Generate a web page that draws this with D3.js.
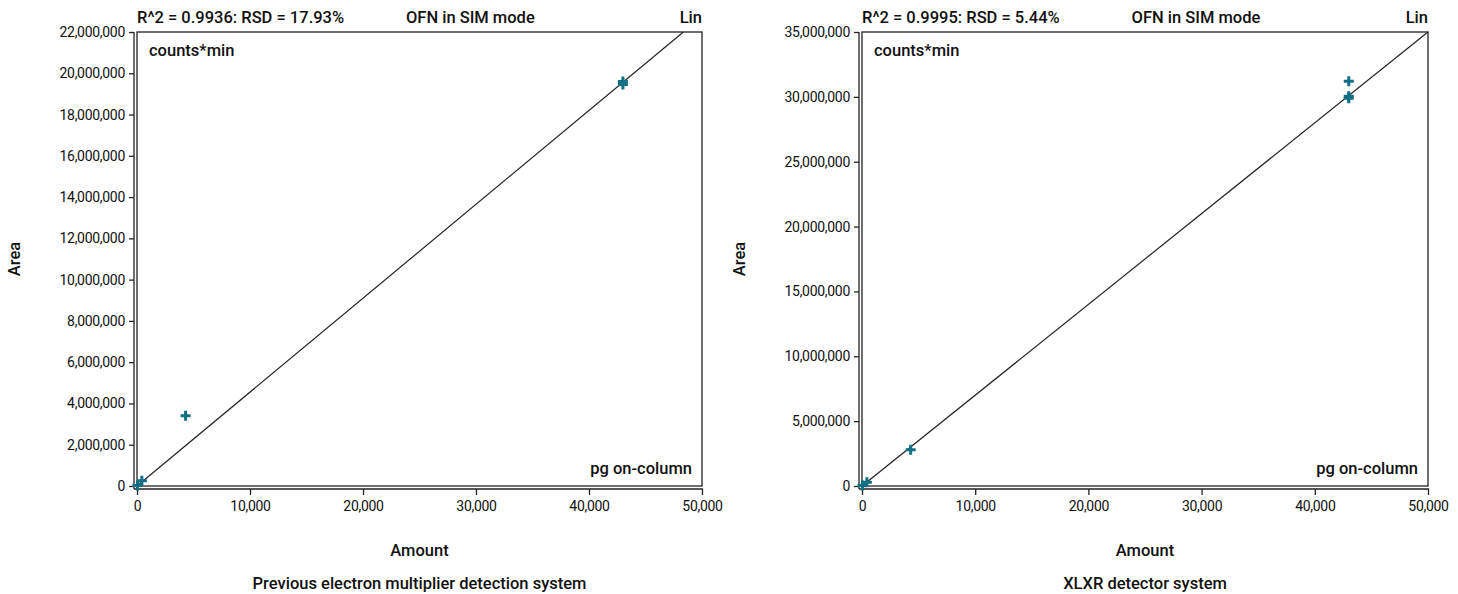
<!DOCTYPE html>
<html>
<head>
<meta charset="utf-8">
<script src="https://cdn.jsdelivr.net/npm/d3@7"></script>
<style>
  body { margin: 0; background: #fff; }
  svg text { font-family: Roboto, "Liberation Sans", Arial, sans-serif; fill: #111; }
  .tick text { font-size: 14px; letter-spacing: -0.3px; }
  .lbl { font-size: 16.5px; font-weight: 500; }
</style>
</head>
<body>
<svg id="chart" width="1458" height="594"></svg>
<script>
// ---- data ----
const leftAmount = [43, 430, 4300, 43000, 43000];
const leftArea = [30000, 250000, 3400000, 19600000, 19450000];
const leftFit = [455, 0]; // slope, intercept

const rightAmount = [43, 430, 4300, 43000, 43000, 43000];
const rightArea = [30000, 280000, 2800000, 31200000, 30050000, 29900000];
const rightFit = [700, 0];

const xTicks = [0, 10000, 20000, 30000, 40000, 50000];
const leftYTicks = d3.range(0, 22000001, 2000000);
const rightYTicks = d3.range(0, 35000001, 5000000);

const headers = [
  ["R^2 = 0.9936: RSD = 17.93%", "OFN in SIM mode", "Lin"],
  ["R^2 = 0.9995: RSD = 5.44%", "OFN in SIM mode", "Lin"]
];
const subtitles = ["Previous electron multiplier detection system", "XLXR detector system"];

const markerColor = "#136f84";

const svg = d3.select("#chart");
const fmt = d3.format(",");

function drawPanel(cfg) {
  const { left, right, top, bottom } = cfg;
  const g = svg.append("g");

  const x = d3.scaleLinear().domain([0, 50000]).range([left, right]);
  const y = d3.scaleLinear().domain([0, cfg.yMax]).range([bottom, top]);

  // plot frame
  g.append("rect")
    .attr("x", left).attr("y", top)
    .attr("width", right - left).attr("height", bottom - top)
    .attr("fill", "none").attr("stroke", "#222").attr("stroke-width", 1.3);

  // axes, offset slightly from the frame
  const xAxis = d3.axisBottom(x).tickValues(xTicks).tickFormat(fmt).tickSizeOuter(0).tickSize(6).tickPadding(6);
  g.append("g")
    .attr("transform", `translate(0,${bottom + 3})`)
    .call(xAxis)
    .call(a => a.select(".domain").attr("d", `M${left - 3},0H${right + 1}`));

  const yAxis = d3.axisLeft(y).tickValues(cfg.yTicks).tickFormat(fmt).tickSizeOuter(0).tickSize(5).tickPadding(4);
  g.append("g")
    .attr("transform", `translate(${left - 3},0)`)
    .call(yAxis)
    .call(a => a.select(".domain").attr("d", `M0,${top}V${bottom + 3}`));

  g.selectAll(".domain, .tick line").attr("stroke", "#222").attr("stroke-width", 1.3);

  // regression line, clipped to the frame
  const [m, b] = cfg.fit;
  const xEnd = Math.min(50000, (cfg.yMax - b) / m);
  g.append("line")
    .attr("x1", x(0)).attr("y1", y(b))
    .attr("x2", x(xEnd)).attr("y2", y(m * xEnd + b))
    .attr("stroke", "#222").attr("stroke-width", 1.2);

  // plus markers
  const pts = cfg.amount.map((a, i) => [a, cfg.area[i]]);
  g.selectAll(".pt").data(pts).join("path")
    .attr("class", "pt")
    .attr("d", d => `M${x(d[0]) - 5},${y(d[1])}h10M${x(d[0])},${y(d[1]) - 5}v10`)
    .attr("stroke", markerColor).attr("stroke-width", 3).attr("fill", "none");

  // texts
  g.append("text").attr("class", "lbl").attr("x", left).attr("y", 23).text(cfg.header[0]);
  g.append("text").attr("class", "lbl").attr("x", left + (right - left) * 0.59).attr("y", 23)
    .attr("text-anchor", "middle").text(cfg.header[1]);
  g.append("text").attr("class", "lbl").attr("x", right).attr("y", 23)
    .attr("text-anchor", "end").text(cfg.header[2]);

  g.append("text").attr("class", "lbl").attr("x", left + 12).attr("y", top + 24).text("counts*min");
  g.append("text").attr("class", "lbl").attr("x", right - 10).attr("y", bottom - 12)
    .attr("text-anchor", "end").text("pg on-column");

  const cx = (left + right) / 2;
  g.append("text").attr("class", "lbl").attr("x", cx).attr("y", 556)
    .attr("text-anchor", "middle").text("Amount");
  g.append("text").attr("class", "lbl").attr("x", cx).attr("y", 589)
    .attr("text-anchor", "middle").text(cfg.subtitle);

  g.append("text").attr("class", "lbl")
    .attr("transform", `translate(${cfg.areaX},${(top + bottom) / 2}) rotate(-90)`)
    .attr("text-anchor", "middle").text("Area");
}

drawPanel({
  left: 137, right: 702, top: 32, bottom: 486, yMax: 22000000,
  yTicks: leftYTicks, amount: leftAmount, area: leftArea, fit: leftFit,
  header: headers[0], subtitle: subtitles[0], areaX: 20
});

drawPanel({
  left: 862, right: 1428, top: 32, bottom: 486, yMax: 35000000,
  yTicks: rightYTicks, amount: rightAmount, area: rightArea, fit: rightFit,
  header: headers[1], subtitle: subtitles[1], areaX: 745
});
</script>
</body>
</html>
